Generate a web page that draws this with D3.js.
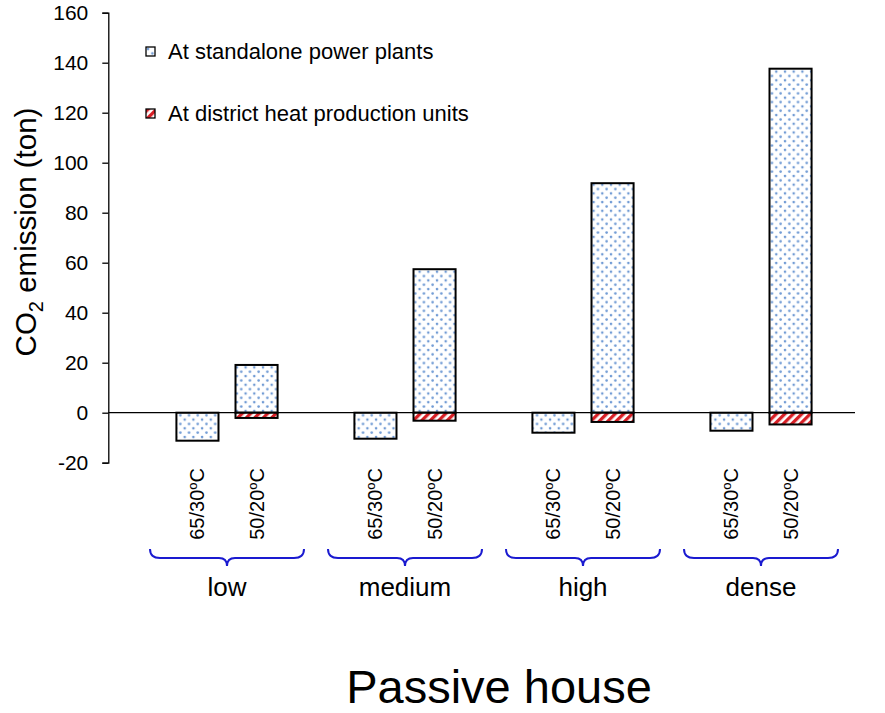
<!DOCTYPE html>
<html>
<head>
<meta charset="utf-8">
<script src="https://cdn.jsdelivr.net/npm/d3@7/dist/d3.min.js"></script>
<style>
  html, body { margin: 0; padding: 0; background: #fff; }
  svg { display: block; font-family: Arial, "Liberation Sans", sans-serif; }
</style>
</head>
<body>
<svg id="chart" width="885" height="713"></svg>
<script>
// Density groups and supply/return temperature regimes
const groups = ["low", "medium", "high", "dense"];
const regimes = ["65/30", "50/20"];
// CO2 emission (ton) attributed to standalone power plants, per group: [65/30, 50/20]
const standalone = [[-11.2, 19.1], [-10.4, 57.4], [-8.0, 91.8], [-7.2, 137.6]];
// CO2 emission (ton) attributed to district heat production units
const district = [[0, -2.1], [0, -3.2], [0, -3.7], [0, -4.7]];
const yTicks = [-20, 0, 20, 40, 60, 80, 100, 120, 140, 160];
const legendLabels = ["At standalone power plants", "At district heat production units"];

const svg = d3.select("#chart");
const defs = svg.append("defs");

// Dotted fill
const dots = defs.append("pattern").attr("id", "dots")
  .attr("patternUnits", "userSpaceOnUse").attr("width", 8.7).attr("height", 8.7);
dots.append("rect").attr("width", 8.7).attr("height", 8.7).attr("fill", "#fff");
dots.append("circle").attr("cx", 2).attr("cy", 2).attr("r", 1.3).attr("fill", "#6f9ad4");
dots.append("circle").attr("cx", 6.35).attr("cy", 6.35).attr("r", 1.3).attr("fill", "#6f9ad4");

// Red diagonal hatch
const hatch = defs.append("pattern").attr("id", "hatch")
  .attr("patternUnits", "userSpaceOnUse").attr("width", 6).attr("height", 6)
  .attr("patternTransform", "rotate(45)");
hatch.append("rect").attr("width", 6).attr("height", 6).attr("fill", "#fff");
hatch.append("rect").attr("width", 3.3).attr("height", 6).attr("fill", "#d71f26");

const y = d3.scaleLinear().domain([-20, 160]).range([462.7, 12.7]);
const xGroup = d3.scaleBand().domain(groups).range([138, 850]).padding(0);
const xInner = d3.scaleBand().domain(regimes).range([0, xGroup.bandwidth()])
  .paddingInner(0.288).paddingOuter(0.65);

const axisX = 108.3;

// Y axis
const yAxis = d3.axisLeft(y).tickValues(yTicks).tickSize(6).tickPadding(14)
  .tickFormat(d => String(d));
const gy = svg.append("g").attr("transform", `translate(${axisX},0)`).call(yAxis);
gy.select(".domain").attr("stroke", "#000").attr("stroke-width", 1.3);
gy.selectAll(".tick line").attr("stroke", "#000").attr("stroke-width", 1.3);
gy.selectAll(".tick text").attr("font-size", 21).attr("fill", "#000")
  .attr("font-family", "Arial, 'Liberation Sans', sans-serif");

// Y axis title
const yTitle = svg.append("text")
  .attr("transform", `translate(36,232) rotate(-90)`)
  .attr("text-anchor", "middle").attr("font-size", 29.5).attr("fill", "#000");
yTitle.append("tspan").text("CO");
yTitle.append("tspan").text("2").attr("font-size", 20).attr("dy", 7);
yTitle.append("tspan").text(" emission (ton)").attr("dy", -7);

// Bars
const rows = [];
groups.forEach((g, gi) => regimes.forEach((r, ri) => {
  rows.push({ g, r, s: standalone[gi][ri], d: district[gi][ri] });
}));
const bx = d => xGroup(d.g) + xInner(d.r);
const bars = svg.append("g");
// standalone segment: from 0 to value
bars.selectAll("rect.sa").data(rows).join("rect").attr("class", "sa")
  .attr("x", bx).attr("width", xInner.bandwidth())
  .attr("y", d => y(Math.max(0, d.s)))
  .attr("height", d => Math.abs(y(d.s) - y(0)))
  .attr("fill", "url(#dots)").attr("stroke", "#000").attr("stroke-width", 2);
// district segment stacked on the negative side
bars.selectAll("rect.dh").data(rows.filter(d => d.d !== 0)).join("rect").attr("class", "dh")
  .attr("x", bx).attr("width", xInner.bandwidth())
  .attr("y", d => y(Math.min(0, d.s)))
  .attr("height", d => Math.abs(y(d.d) - y(0)))
  .attr("fill", "url(#hatch)").attr("stroke", "#000").attr("stroke-width", 2);

// Zero line
svg.append("line").attr("x1", axisX).attr("x2", 855).attr("y1", y(0)).attr("y2", y(0))
  .attr("stroke", "#000").attr("stroke-width", 1.3);

// Rotated regime labels
const catLabels = svg.append("g").selectAll("text").data(rows).join("text")
  .attr("transform", d => `translate(${bx(d) + xInner.bandwidth() / 2},468) rotate(-90)`)
  .attr("text-anchor", "end").attr("dy", "0.35em").attr("font-size", 20).attr("fill", "#000");
catLabels.append("tspan").text(d => d.r);
catLabels.append("tspan").text("o").attr("font-size", 13).attr("dy", -7);
catLabels.append("tspan").text("C").attr("dy", 7);

// Braces and group labels
const braceHalf = 77;
const brace = cx => {
  const x0 = cx - braceHalf, x1 = cx + braceHalf, top = 549, mid = 558, tip = 566;
  return `M${x0},${top} Q${x0},${mid} ${x0 + 10},${mid} L${cx - 8},${mid} Q${cx},${mid} ${cx},${tip}` +
    ` Q${cx},${mid} ${cx + 8},${mid} L${x1 - 10},${mid} Q${x1},${mid} ${x1},${top}`;
};
const gc = g => xGroup(g) + xGroup.bandwidth() / 2;
svg.append("g").selectAll("path").data(groups).join("path")
  .attr("d", g => brace(gc(g))).attr("fill", "none")
  .attr("stroke", "#1a1ad0").attr("stroke-width", 2);
svg.append("g").selectAll("text").data(groups).join("text")
  .attr("x", gc).attr("y", 596).attr("text-anchor", "middle")
  .attr("font-size", 26).attr("fill", "#000").text(g => g);

// Chart title below
svg.append("text").attr("x", 499).attr("y", 703).attr("text-anchor", "middle")
  .attr("font-size", 47).attr("fill", "#000").text("Passive house");

// Legend
const legend = svg.append("g").selectAll("g").data(legendLabels).join("g")
  .attr("transform", (d, i) => `translate(146,${47 + i * 62})`);
legend.append("rect").attr("width", 9).attr("height", 9)
  .attr("fill", (d, i) => i === 0 ? "url(#dots)" : "url(#hatch)")
  .attr("stroke", "#000").attr("stroke-width", 1.3);
legend.append("text").attr("x", 22).attr("y", 11.5).attr("font-size", 22).attr("fill", "#000")
  .text(d => d);
</script>
</body>
</html>
